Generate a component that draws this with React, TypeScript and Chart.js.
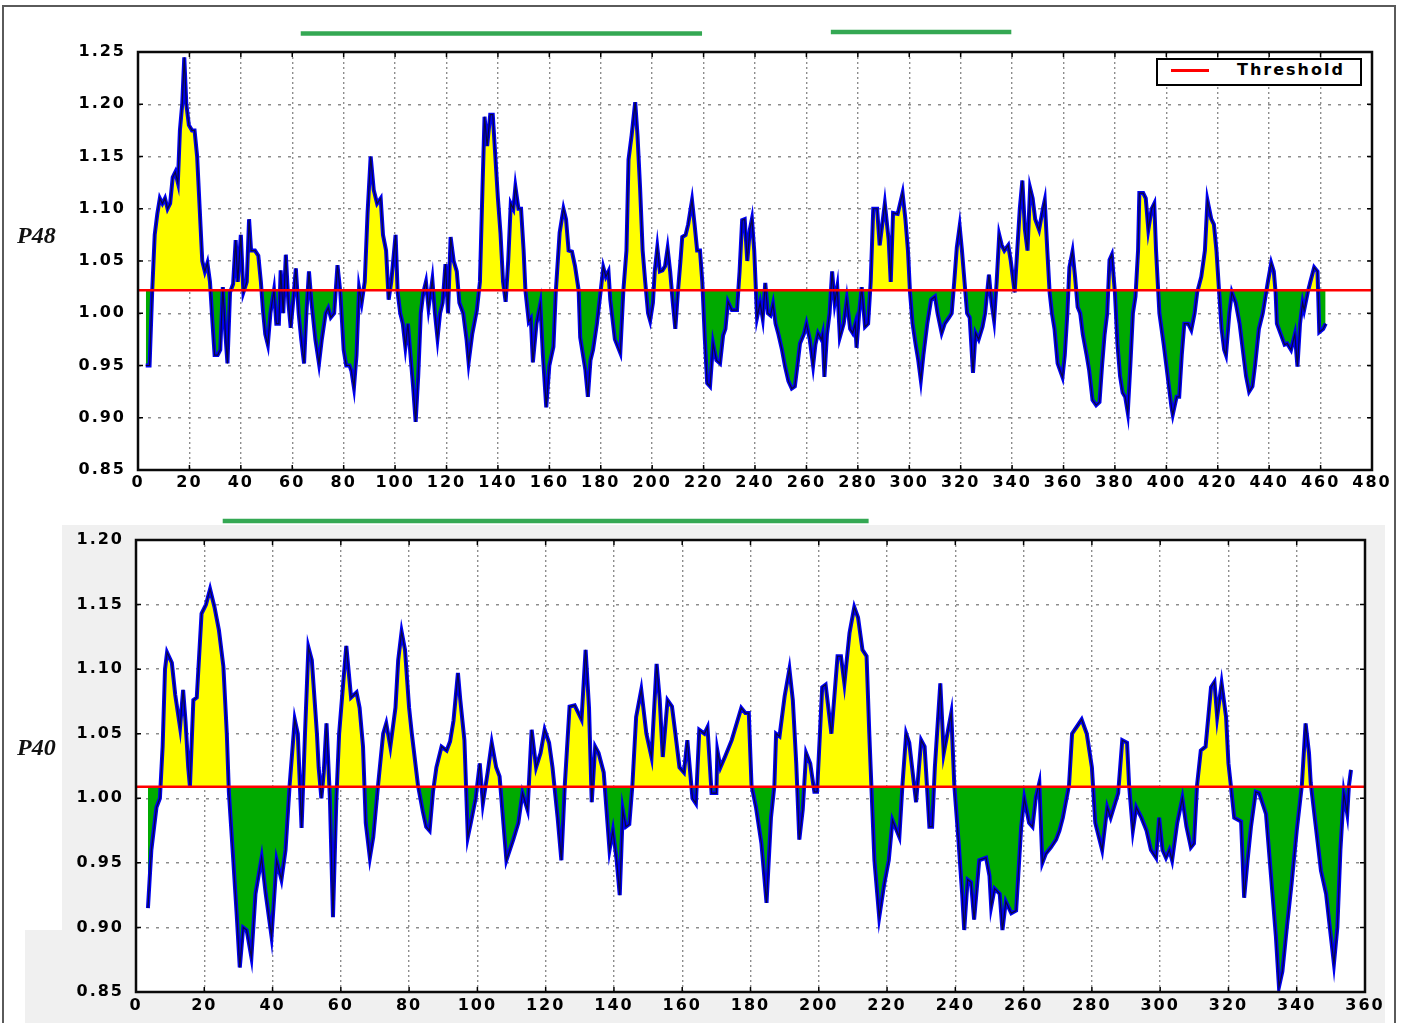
import React, { useEffect, useRef } from 'react';
import { Chart, registerables } from 'chart.js';

Chart.register(...registerables);

// ---------------- DATA ----------------
// P48 profile (residue position, score)
const P48_X = [
  3, 4.5, 5.5, 6.5, 7.5, 8.5, 9.5, 10.5, 11.5, 12.5, 13.5, 14.5, 15.5, 16.3, 17.2, 18, 18.8, 19.8, 21, 22,
  23, 24, 25, 26, 27, 28, 29, 29.8, 31, 32, 33, 34, 34.8, 35.8, 37, 38, 38.8, 40, 41, 42.3,
  43.2, 44, 45.5, 46.8, 47.8, 48.6, 49.5, 50.5, 51.5, 52.9, 53.8, 54.8, 55.5, 56.5, 57.5, 58.5, 59.4, 60.3, 61.4, 62.5,
  63.5, 64.6, 65.5, 66.5, 67.5, 69, 70.4, 71.5, 73, 74, 75, 76.3, 77.6, 78.7, 80, 81, 82.3, 83, 84, 85,
  86, 87, 88.2, 89.3, 90.5, 91.7, 93, 94.4, 95.3, 96.5, 97.5, 98.5, 100.2, 101, 102, 103, 104, 105, 106, 107,
  108, 109, 110, 111, 112, 113, 114.5, 115.5, 116.5, 117.5, 118.5, 119.6, 120.6, 121.6, 122.8, 124, 125, 126.5, 127.8, 128.6,
  130, 131.8, 133, 134, 134.8, 135.8, 137, 138, 139, 140, 141, 142, 143, 144, 145, 146, 146.8, 148, 149, 150,
  150.7, 152, 152.8, 153.6, 155, 156.5, 157.5, 158.8, 160, 161.6, 162.5, 164, 165.5, 166.5, 167.5, 168.8, 170, 171.4, 172, 174,
  175, 176, 177, 178.5, 180, 181, 182, 183, 183.7, 185.5, 187.6, 188.8, 190, 190.8, 192, 193.4, 194.3, 195.3, 196.3, 197.3,
  198.4, 199.2, 200.3, 201, 202, 203, 204, 205, 206, 207, 208, 209, 210, 211, 211.7, 213, 214, 215.5, 216.5, 217.5,
  218.6, 219.5, 220.5, 221.4, 222.5, 223.7, 225, 226.4, 227.6, 228.5, 229.5, 231, 233, 234, 235, 236, 237, 238, 238.8, 239.7,
  240.8, 242, 243, 244, 245, 246, 247, 248, 249, 250.5, 251.7, 253, 254.3, 255.5, 256.5, 257.5, 259, 260, 261.3, 262.6,
  263.5, 264.5, 265.8, 266.3, 267, 268, 269, 270, 271, 272, 273, 274.5, 275.7, 277, 278, 279, 279.5, 280.5, 281.5, 282.8,
  284, 285, 286, 287.5, 288.5, 290.5, 292, 292.8, 293.7, 295.5, 297.4, 298.5, 299.5, 300.3, 301.3, 302.5, 303.5, 304.5, 305.5, 307,
  308.5, 310, 311, 312.6, 313.8, 315.5, 316.5, 317.5, 318.5, 319.6, 320.5, 321.5, 322.5, 323.5, 324.8, 325.8, 327, 328.5, 329.5, 331,
  332, 333, 334, 335, 336, 337, 338.5, 339.5, 341, 342, 343, 344, 345, 346, 347, 348, 349, 350.5, 352, 352.7,
  353.7, 354.6, 355.5, 356.5, 357.7, 359.6, 360.5, 361.5, 362.3, 363.5, 364.5, 365.5, 366.5, 367.5, 369, 370, 371.3, 372.7, 374, 375,
  376, 377, 377.9, 378.8, 380, 381, 382, 383, 384, 385, 386, 387, 388, 389, 389.5, 391, 392, 393, 394.3, 395.3,
  396, 397.3, 399, 400, 401, 402, 402.5, 404, 405, 406, 407, 408.5, 409.7, 411, 412, 413.6, 415, 416, 417.5, 418.5,
  419.5, 420.5, 421.5, 422.5, 423.2, 424.5, 425.5, 427, 428.5, 430, 431, 432.2, 433.5, 434.5, 436, 437.5, 438.5, 439.5, 440.8, 441.8,
  442.5, 443, 444.5, 446, 447, 448.5, 450, 451, 452, 453, 453.6, 455, 456, 457.5, 458.8, 459.5, 461, 462,
];
const P48_Y = [
  0.95, 0.95, 1.02, 1.075, 1.095, 1.11, 1.105, 1.11, 1.1, 1.105, 1.13, 1.135, 1.125, 1.175, 1.2, 1.245, 1.2, 1.18, 1.175, 1.175,
  1.15, 1.1, 1.05, 1.04, 1.048, 1.03, 0.99, 0.96, 0.96, 0.965, 1.025, 0.98, 0.952, 1.02, 1.028, 1.07, 1.03, 1.075, 1.02, 1.03,
  1.09, 1.06, 1.06, 1.055, 1.03, 1.003, 0.98, 0.97, 1.0, 1.022, 0.99, 0.99, 1.041, 1.0, 1.056, 1.01, 0.986, 1.01, 1.043, 1.0,
  0.975, 0.952, 1.0, 1.04, 1.01, 0.975, 0.952, 0.975, 1.0, 1.005, 0.996, 1.0, 1.046, 1.02, 0.965, 0.95, 0.95, 0.945, 0.929, 0.96,
  1.024, 1.01, 1.03, 1.096, 1.15, 1.118, 1.105, 1.11, 1.075, 1.06, 1.013, 1.03, 1.075, 1.02, 1.0, 0.99, 0.968, 0.99, 0.96, 0.93,
  0.896, 0.94, 1.0, 1.02, 1.03, 1.005, 1.032, 1.0, 0.976, 1.0, 1.01, 1.047, 1.0, 1.073, 1.05, 1.04, 1.01, 1.0, 0.975, 0.953,
  0.98, 1.003, 1.03, 1.12, 1.188, 1.16, 1.19, 1.19, 1.15, 1.11, 1.077, 1.03, 1.011, 1.05, 1.105, 1.1, 1.121, 1.1, 1.1, 1.06,
  1.022, 0.992, 0.995, 0.953, 0.99, 1.009, 0.96, 0.91, 0.95, 0.968, 1.02, 1.077, 1.1, 1.09, 1.06, 1.059, 1.045, 1.022, 0.977, 0.946,
  0.92, 0.955, 0.965, 0.99, 1.022, 1.044, 1.035, 1.04, 1.013, 0.975, 0.962, 1.022, 1.06, 1.147, 1.17, 1.202, 1.17, 1.12, 1.06, 1.03,
  1.0, 0.993, 1.01, 1.04, 1.063, 1.04, 1.041, 1.045, 1.062, 1.04, 1.011, 0.985, 1.02, 1.05, 1.073, 1.075, 1.085, 1.108, 1.085, 1.06,
  1.06, 1.03, 0.975, 0.933, 0.93, 0.971, 0.955, 0.952, 0.979, 0.985, 1.011, 1.003, 1.003, 1.04, 1.089, 1.09, 1.05, 1.08, 1.09, 1.06,
  0.996, 1.01, 0.995, 1.029, 1.0, 0.998, 1.009, 0.99, 0.981, 0.965, 0.949, 0.935, 0.928, 0.93, 0.95, 0.971, 0.98, 0.99, 0.975, 0.95,
  0.97, 0.981, 0.975, 0.98, 0.939, 0.98, 1.0, 1.04, 1.01, 1.025, 0.977, 0.99, 1.013, 0.985, 0.981, 0.99, 0.967, 1.0, 1.025, 0.987,
  0.99, 1.03, 1.1, 1.1, 1.065, 1.105, 1.07, 1.03, 1.096, 1.095, 1.115, 1.09, 1.06, 1.02, 0.99, 0.97, 0.955, 0.936, 0.96, 0.99,
  1.013, 1.016, 1.0, 0.981, 0.99, 0.996, 1.0, 1.03, 1.063, 1.083, 1.06, 1.03, 1.0, 0.996, 0.943, 0.981, 0.975, 0.987, 1.0, 1.037,
  1.01, 0.993, 1.03, 1.075, 1.065, 1.06, 1.065, 1.05, 1.02, 1.06, 1.1, 1.127, 1.08, 1.06, 1.12, 1.11, 1.09, 1.08, 1.1, 1.108,
  1.06, 1.02, 1.0, 0.985, 0.952, 0.939, 0.96, 1.0, 1.044, 1.059, 1.035, 1.006, 1.0, 0.98, 0.96, 0.945, 0.917, 0.912, 0.915, 0.95,
  0.98, 1.0, 1.051, 1.056, 1.02, 0.97, 0.94, 0.924, 0.92, 0.905, 0.95, 1.0, 1.016, 1.06, 1.115, 1.115, 1.11, 1.08, 1.1, 1.105,
  1.06, 1.0, 0.97, 0.95, 0.93, 0.91, 0.903, 0.92, 0.92, 0.96, 0.99, 0.99, 0.984, 1.0, 1.02, 1.035, 1.06, 1.108, 1.09, 1.085,
  1.06, 1.022, 0.985, 0.965, 0.96, 1.0, 1.02, 1.01, 0.99, 0.96, 0.94, 0.925, 0.93, 0.95, 0.985, 1.0, 1.015, 1.03, 1.048, 1.04,
  1.02, 0.99, 0.98, 0.97, 0.971, 0.965, 0.98, 0.949, 0.99, 1.01, 1.003, 1.02, 1.03, 1.044, 1.04, 0.982, 0.985, 0.99,
];

// P40 profile (residue position, score)
const P40_X = [
  3.5, 4.5, 6, 7, 7.8, 8.5, 9.1, 10.5, 11.5, 12.9, 13.8, 14.5, 15.3, 15.8, 16.8, 17.8, 19.2, 20.5, 21.7, 23,
  24.3, 25.6, 26.6, 27.2, 28.5, 29.5, 30.4, 31.4, 32.4, 33.8, 35, 36.8, 38, 39.7, 41.2, 42.6, 43.8, 45, 46.5, 47.4,
  48.5, 49.5, 50.5, 51.5, 53, 53.5, 54.3, 55, 55.8, 56.8, 57.7, 58.7, 59.5, 60.6, 61.6, 63, 64.6, 65.5, 66.5, 67.3,
  68.5, 69.5, 70.9, 72.4, 73.3, 74.5, 76, 76.8, 77.8, 78.8, 80, 80.8, 82.6, 84, 85, 86, 87, 88, 89.5, 91,
  92, 93, 94.3, 95, 96.2, 97.2, 98, 99.5, 100.7, 101.6, 103, 104.2, 105.5, 106.5, 108.5, 109.5, 110.5, 112, 113.2, 114.7,
  115.9, 117.2, 118.5, 119.7, 121, 122, 123.5, 124.6, 125.6, 127, 128.5, 130.5, 131.7, 132.7, 133.5, 134.5, 135.5, 137, 138.7, 139.7,
  140.8, 141.7, 142.6, 143.5, 144.5, 145.4, 146.5, 148, 149.5, 151, 152.5, 153.4, 154.3, 155.7, 157, 158, 159.2, 160.5, 161.5, 163,
  164, 165, 166.5, 167.4, 168.6, 170, 170.3, 171.2, 172.5, 174.5, 177.3, 178.5, 179.5, 180.3, 181.6, 183.2, 184.7, 186, 187, 187.5,
  188.5, 190, 191.4, 192.4, 193.4, 194.3, 195.3, 196.3, 197.5, 198.7, 199.5, 201, 202, 203.7, 205.5, 206.5, 207.5, 209, 210.4, 211.5,
  212.8, 214, 214.8, 215.4, 216.3, 217.7, 219.2, 220.5, 221.6, 223.6, 224.5, 225.6, 226.5, 228.5, 230, 231, 232.4, 233.2, 234, 235.6,
  236.6, 238.8, 239.7, 240.9, 242, 242.6, 243.6, 244.6, 245.5, 247, 249, 250, 250.5, 251.5, 253, 253.8, 254.8, 256.4, 257.8, 259.3,
  260.2, 261.6, 262.6, 263.6, 264.6, 265.5, 266.5, 268, 269.5, 270.5, 271.5, 273.3, 274.2, 277, 278.5, 280, 281, 283, 284.5, 285.5,
  287.7, 288.9, 290.3, 290.9, 292, 293, 294.5, 296, 297.3, 298.8, 299.7, 300.7, 301.7, 302.7, 303.5, 305, 306.5, 307.7, 309, 309.9,
  310.8, 311.9, 313.3, 314.9, 315.9, 316.7, 318, 319.3, 320, 320.7, 321.7, 323.7, 324.6, 325.6, 326.6, 328, 329, 331, 332.5, 333.9,
  334.8, 335.8, 337.1, 338.5, 340, 341.5, 342.6, 343.6, 344.1, 345.6, 347.1, 348.6, 350, 350.9, 351.9, 352.8, 353.8, 354.8, 355.3, 355.9,
];
const P40_Y = [
  0.915, 0.96, 0.993, 1.0, 1.04, 1.1, 1.113, 1.105, 1.08, 1.055, 1.084, 1.06, 1.024, 1.009, 1.076, 1.078, 1.143, 1.15, 1.162, 1.148,
  1.13, 1.102, 1.05, 1.005, 0.952, 0.91, 0.869, 0.9, 0.898, 0.877, 0.926, 0.954, 0.926, 0.893, 0.952, 0.937, 0.96, 1.01, 1.061, 1.05,
  0.977, 1.05, 1.117, 1.107, 1.05, 1.024, 1.0, 1.02, 1.058, 1.0, 0.908, 1.0, 1.05, 1.086, 1.118, 1.078, 1.082, 1.07, 1.04, 0.981,
  0.954, 0.97, 1.01, 1.05, 1.058, 1.04, 1.07, 1.107, 1.129, 1.115, 1.07, 1.05, 1.01, 0.99, 0.978, 0.975, 1.005, 1.024, 1.04, 1.037,
  1.044, 1.06, 1.097, 1.076, 1.045, 0.97, 0.98, 1.0, 1.027, 0.996, 1.02, 1.043, 1.024, 1.017, 0.952, 0.96, 0.968, 0.981, 1.004, 0.991,
  1.053, 1.024, 1.035, 1.053, 1.043, 1.024, 0.985, 0.952, 1.01, 1.071, 1.072, 1.061, 1.115, 1.07, 0.997, 1.04, 1.035, 1.02, 0.96, 0.975,
  0.952, 0.925, 0.991, 0.978, 0.98, 1.01, 1.063, 1.084, 1.05, 1.032, 1.104, 1.077, 1.032, 1.076, 1.071, 1.05, 1.024, 1.02, 1.045, 1.0,
  0.996, 1.053, 1.05, 1.055, 1.004, 1.004, 1.037, 1.024, 1.032, 1.045, 1.07, 1.066, 1.066, 1.01, 0.993, 0.965, 0.919, 0.985, 1.01, 1.05,
  1.048, 1.079, 1.1, 1.076, 1.027, 0.968, 0.991, 1.035, 1.027, 1.005, 1.005, 1.086, 1.088, 1.05, 1.11, 1.11, 1.089, 1.128, 1.148, 1.14,
  1.115, 1.11, 1.05, 1.01, 0.952, 0.908, 0.934, 0.952, 0.983, 0.97, 1.01, 1.05, 1.043, 0.997, 1.045, 1.04, 0.978, 0.978, 1.024, 1.089,
  1.035, 1.066, 1.01, 0.968, 0.926, 0.898, 0.937, 0.935, 0.906, 0.952, 0.954, 0.94, 0.916, 0.93, 0.926, 0.898, 0.92, 0.911, 0.913, 0.978,
  1.0, 0.981, 0.978, 1.001, 1.012, 0.95, 0.957, 0.962, 0.968, 0.975, 0.985, 1.01, 1.05, 1.061, 1.05, 1.024, 0.981, 0.96, 0.993, 0.985,
  1.004, 1.045, 1.043, 1.01, 0.975, 0.993, 0.985, 0.975, 0.96, 0.954, 0.985, 0.96, 0.954, 0.96, 0.952, 0.981, 1.0, 0.978, 0.962, 0.965,
  1.01, 1.037, 1.04, 1.086, 1.09, 1.063, 1.089, 1.063, 1.027, 1.01, 0.985, 0.982, 0.923, 0.952, 0.978, 1.005, 1.004, 0.988, 0.939, 0.893,
  0.854, 0.866, 0.9, 0.934, 0.975, 1.01, 1.058, 1.035, 1.012, 0.978, 0.944, 0.926, 0.893, 0.872, 0.9, 0.96, 1.004, 0.988, 1.01, 1.022,
];

const P48_THRESHOLD = 1.022;
const P40_THRESHOLD = 1.009;

const P48_X_RANGE = [0, 480];
const P48_Y_RANGE = [0.85, 1.25];
const P40_X_RANGE = [0, 360];
const P40_Y_RANGE = [0.85, 1.2];
const X_TICK_STEP = 20;
const Y_TICK_STEP = 0.05;

// highlighted residue stretches drawn above each panel
const P48_REGIONS = [[63.3, 219.4], [269.5, 339.7]];
const P40_REGIONS = [[25.4, 214.6]];

const LEGEND_LABEL = 'Threshold';

// ---------------- CHART HELPERS ----------------
const FONT = '"DejaVu Sans", Verdana, sans-serif';

const spacingPlugin = {
  id: 'spacing',
  beforeLayout(chart: any) { (chart.ctx as any).letterSpacing = '2px'; },
  beforeDraw(chart: any) { (chart.ctx as any).letterSpacing = '2px'; },
};

const whiteAreaPlugin = {
  id: 'whiteArea',
  beforeDraw(chart: any) {
    const { ctx, chartArea: a } = chart;
    ctx.save();
    ctx.fillStyle = '#ffffff';
    ctx.fillRect(a.left, a.top, a.right - a.left, a.bottom - a.top);
    ctx.restore();
  },
};

const framePlugin = {
  id: 'frame',
  afterDraw(chart: any) {
    const { ctx, chartArea: a, scales } = chart;
    ctx.save();
    ctx.strokeStyle = '#000';
    ctx.lineWidth = 1.5;
    ctx.beginPath();
    scales.x.ticks.forEach((t: any) => {
      const px = scales.x.getPixelForValue(t.value);
      ctx.moveTo(px, a.bottom); ctx.lineTo(px, a.bottom - 5);
      ctx.moveTo(px, a.top); ctx.lineTo(px, a.top + 5);
    });
    scales.y.ticks.forEach((t: any) => {
      const py = scales.y.getPixelForValue(t.value);
      ctx.moveTo(a.left, py); ctx.lineTo(a.left + 5, py);
      ctx.moveTo(a.right, py); ctx.lineTo(a.right - 5, py);
    });
    ctx.stroke();
    ctx.lineWidth = 2.5;
    ctx.strokeStyle = '#0a0a0a';
    ctx.strokeRect(a.left, a.top, a.right - a.left, a.bottom - a.top);
    ctx.restore();
  },
};

function regionPlugin(regions: number[][], offsets: number[]) {
  return {
    id: 'regions',
    afterDraw(chart: any) {
      const { ctx, chartArea: a, scales } = chart;
      ctx.save();
      ctx.strokeStyle = '#34a853';
      ctx.lineWidth = 4.5;
      regions.forEach((r, i) => {
        const y = a.top - offsets[i];
        ctx.beginPath();
        ctx.moveTo(scales.x.getPixelForValue(r[0]), y);
        ctx.lineTo(scales.x.getPixelForValue(r[1]), y);
        ctx.stroke();
      });
      ctx.restore();
    },
  };
}

function buildConfig(p: any) {
  const pts = p.xs.map((x: number, i: number) => ({ x, y: p.ys[i] }));
  const tickFont = { family: FONT, size: 16, weight: 'bold' };
  return {
    type: 'line',
    data: {
      datasets: [
        {
          label: LEGEND_LABEL,
          data: [{ x: p.xRange[0], y: p.thr }, { x: p.xRange[1], y: p.thr }],
          borderColor: '#ff0000',
          borderWidth: 2.5,
          pointRadius: 0,
          fill: false,
          order: 0,
        },
        {
          label: 'edge',
          data: pts,
          borderColor: 'rgba(10,10,40,0.9)',
          borderWidth: 1.2,
          pointRadius: 0,
          fill: false,
          order: 1,
        },
        {
          label: p.name,
          data: pts,
          borderColor: '#0000f0',
          borderWidth: 4,
          pointRadius: 0,
          fill: { target: { value: p.thr }, above: '#ffff00', below: '#00aa00' },
          order: 2,
        },
      ],
    },
    options: {
      responsive: false,
      animation: false,
      events: [],
      layout: { padding: { top: p.padTop, right: p.padRight, left: 0, bottom: 0 } },
      plugins: { legend: { display: false }, tooltip: { enabled: false } },
      scales: {
        x: {
          type: 'linear',
          min: p.xRange[0],
          max: p.xRange[1],
          z: 1,
          afterFit: (s: any) => { s.height = p.bottomH; },
          ticks: {
            stepSize: X_TICK_STEP, autoSkip: false, maxRotation: 0, minRotation: 0,
            padding: p.xPad, color: '#000', font: tickFont,
          },
          grid: { color: '#8d8d8d', lineWidth: 1.4, drawTicks: false },
          border: { display: false, dash: [2, 3] },
        },
        y: {
          type: 'linear',
          min: p.yRange[0],
          max: p.yRange[1],
          z: 1,
          afterFit: (s: any) => { s.width = p.leftW; },
          ticks: {
            stepSize: Y_TICK_STEP, padding: 12, color: '#000', font: tickFont,
            callback: (v: any) => Number(v).toFixed(2),
          },
          grid: { color: '#8d8d8d', lineWidth: 1.4, drawTicks: false },
          border: { display: false, dash: [3, 7] },
        },
      },
    },
    plugins: p.plugins,
  };
}

export default function App() {
  const topRef = useRef<HTMLCanvasElement>(null);
  const botRef = useRef<HTMLCanvasElement>(null);

  useEffect(() => {
    const top = new Chart(topRef.current as any, buildConfig({
      name: 'P48', xs: P48_X, ys: P48_Y, thr: P48_THRESHOLD,
      xRange: P48_X_RANGE, yRange: P48_Y_RANGE,
      padTop: 52, padRight: 34, bottomH: 30, leftW: 138, xPad: 3,
      plugins: [spacingPlugin, framePlugin, regionPlugin(P48_REGIONS, [18.5, 20])],
    }) as any);
    const bot = new Chart(botRef.current as any, buildConfig({
      name: 'P40', xs: P40_X, ys: P40_Y, thr: P40_THRESHOLD,
      xRange: P40_X_RANGE, yRange: P40_Y_RANGE,
      padTop: 40, padRight: 41, bottomH: 31, leftW: 136, xPad: 4,
      plugins: [spacingPlugin, whiteAreaPlugin, framePlugin, regionPlugin(P40_REGIONS, [19])],
    }) as any);
    return () => { top.destroy(); bot.destroy(); };
  }, []);

  const panelLabel: React.CSSProperties = {
    position: 'absolute', left: 17, fontFamily: '"Liberation Serif", "Times New Roman", serif',
    fontWeight: 'bold', fontStyle: 'italic', fontSize: 24, lineHeight: '24px', color: '#111',
  };

  return (
    <div style={{ position: 'absolute', left: 0, top: 0, width: 1406, height: 1023, overflow: 'hidden', background: '#fff' }}>
      <div style={{ position: 'absolute', left: 62, top: 525, width: 1323, height: 498, background: '#f0f0f0' }} />
      <div style={{ position: 'absolute', left: 25, top: 930, width: 37, height: 93, background: '#f0f0f0' }} />
      <canvas ref={topRef} width={1406} height={500} style={{ position: 'absolute', left: 0, top: 0, display: 'block' }} />
      <canvas ref={botRef} width={1406} height={523} style={{ position: 'absolute', left: 0, top: 500, display: 'block' }} />
      <div style={{ ...panelLabel, top: 223 }}>P48</div>
      <div style={{ ...panelLabel, top: 735 }}>P40</div>
      <div style={{
        position: 'absolute', left: 1156, top: 58, width: 206, height: 28, boxSizing: 'border-box',
        border: '2.5px solid #000', background: '#fff',
      }}>
        <div style={{ position: 'absolute', left: 13, top: 9, width: 38, height: 3, background: '#ff0000' }} />
        <div style={{
          position: 'absolute', left: 79, top: 2, fontFamily: FONT, fontWeight: 'bold', fontSize: 16,
          lineHeight: '16px', letterSpacing: '2px', color: '#000', whiteSpace: 'nowrap',
        }}>{LEGEND_LABEL}</div>
      </div>
      <div style={{
        position: 'absolute', left: 2, top: 5, width: 1394, height: 1100, boxSizing: 'border-box',
        border: '2px solid #5a5a5a', pointerEvents: 'none',
      }} />
    </div>
  );
}
